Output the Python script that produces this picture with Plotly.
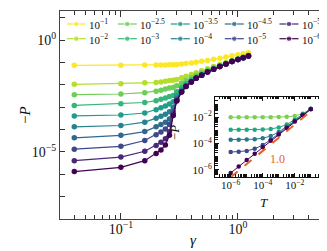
import plotly.graph_objects as go

# ---------------- data: main panel (-P vs gamma, one series per T) ----------------
gamma = [0.04, 0.1, 0.16, 0.2, 0.22, 0.24, 0.26, 0.28, 0.30, 0.33, 0.36, 0.40,
         0.44, 0.49, 0.55, 0.62, 0.70, 0.79, 0.89, 1.0, 1.11, 1.23]

series_labels = ["10<sup>−1</sup>", "10<sup>−2</sup>", "10<sup>−2.5</sup>", "10<sup>−3</sup>",
                 "10<sup>−3.5</sup>", "10<sup>−4</sup>", "10<sup>−4.5</sup>", "10<sup>−5</sup>",
                 "10<sup>−5.5</sup>", "10<sup>−6</sup>"]

# log10(-P)
logP_T1e1 = [-1.13, -1.13, -1.12, -1.11, -1.11, -1.11, -1.10, -1.10, -1.09, -1.07, -1.05, -1.02,
             -0.99, -0.95, -0.91, -0.86, -0.81, -0.76, -0.70, -0.66, -0.61, -0.57]
logP_T1e2 = [-1.98, -1.95, -1.91, -1.90, -1.87, -1.84, -1.81, -1.80, -1.76, -1.69, -1.62, -1.54,
             -1.46, -1.37, -1.28, -1.18, -1.09, -1.00, -0.90, -0.82, -0.75, -0.68]
logP_T1e25 = [-2.44, -2.41, -2.35, -2.29, -2.24, -2.19, -2.14, -2.12, -2.04, -1.92, -1.81, -1.68,
              -1.57, -1.47, -1.35, -1.24, -1.14, -1.04, -0.93, -0.85, -0.77, -0.69]
logP_T1e3 = [-2.92, -2.85, -2.79, -2.71, -2.65, -2.59, -2.52, -2.48, -2.31, -2.11, -1.95, -1.78,
             -1.65, -1.53, -1.40, -1.28, -1.16, -1.06, -0.95, -0.86, -0.78, -0.70]
logP_T1e35 = [-3.39, -3.35, -3.26, -3.11, -3.03, -2.95, -2.86, -2.76, -2.49, -2.21, -2.02, -1.83,
              -1.68, -1.55, -1.41, -1.29, -1.17, -1.06, -0.95, -0.87, -0.79, -0.71]
logP_T1e4 = [-3.88, -3.82, -3.67, -3.50, -3.41, -3.32, -3.21, -3.01, -2.60, -2.27, -2.05, -1.85,
             -1.70, -1.56, -1.42, -1.30, -1.18, -1.07, -0.96, -0.87, -0.79, -0.71]
logP_T1e45 = [-4.37, -4.26, -4.09, -3.88, -3.78, -3.67, -3.53, -3.18, -2.66, -2.30, -2.07, -1.86,
              -1.70, -1.57, -1.43, -1.30, -1.18, -1.07, -0.96, -0.87, -0.79, -0.71]
logP_T1e5 = [-4.88, -4.75, -4.49, -4.23, -4.11, -3.98, -3.78, -3.27, -2.69, -2.31, -2.07, -1.87,
             -1.71, -1.57, -1.43, -1.30, -1.18, -1.07, -0.96, -0.87, -0.79, -0.71]
logP_T1e55 = [-5.39, -5.23, -4.97, -4.71, -4.57, -4.41, -4.10, -3.35, -2.71, -2.32, -2.08, -1.87,
              -1.71, -1.57, -1.43, -1.30, -1.18, -1.07, -0.96, -0.87, -0.79, -0.71]
logP_T1e6 = [-5.88, -5.69, -5.39, -5.07, -4.91, -4.69, -4.26, -3.37, -2.72, -2.32, -2.08, -1.87,
             -1.71, -1.57, -1.43, -1.30, -1.18, -1.07, -0.96, -0.87, -0.79, -0.71]

series_colors = ["#fde725", "#b5de2b", "#6ece58", "#35b779", "#1f9e89",
                 "#26828e", "#31688e", "#3e4989", "#482878", "#440154"]

# ---------------- data: inset (-P vs T) ----------------
T_inset = [1e-6, 3.16e-6, 1e-5, 3.16e-5, 1e-4, 3.16e-4, 1e-3, 3.16e-3, 1e-2, 3.16e-2, 1e-1]
inset_logP_a = [-2.0, -2.0, -2.0, -2.0, -2.0, -2.0, -1.99, -1.97, -1.90, -1.72, -1.35]
inset_logP_b = [-2.95, -2.95, -2.95, -2.95, -2.93, -2.89, -2.78, -2.56, -2.20, -1.78, -1.36]
inset_logP_c = [-3.71, -3.71, -3.70, -3.68, -3.60, -3.44, -3.13, -2.73, -2.27, -1.80, -1.37]
inset_logP_d = [-4.66, -4.63, -4.57, -4.41, -4.12, -3.72, -3.26, -2.78, -2.29, -1.81, -1.38]
inset_logP_e = [-6.25, -5.76, -5.27, -4.78, -4.29, -3.80, -3.31, -2.82, -2.33, -1.85, -1.40]
inset_colors = ["#7ad151", "#22a884", "#2a788e", "#3e4989", "#440154"]
slope_T = [1e-6, 1e-1]
slope_logP = [-6.58, -1.55]
slope_label = "1.0"
slope_color = "#e8602c"

FONT = "Liberation Serif"
TXT = "#111"

fig = go.Figure()

main_series = [logP_T1e1, logP_T1e2, logP_T1e25, logP_T1e3, logP_T1e35,
               logP_T1e4, logP_T1e45, logP_T1e5, logP_T1e55, logP_T1e6]
for lab, vals, col in zip(series_labels, main_series, series_colors):
    fig.add_trace(go.Scatter(
        x=gamma, y=[10 ** v for v in vals], mode="lines+markers", name=lab,
        line=dict(color=col, width=1.2), marker=dict(color=col, size=5.5),
        showlegend=False, xaxis="x", yaxis="y"))

# legend drawn on a hidden overlay axis (pixel units of the plot area)
leg_col_px = [16.3, 67.3, 120.3, 174.3, 229.0]
leg_row_px = [13.0, 27.7]
for i, (lab, col) in enumerate(zip(series_labels, series_colors)):
    cx = leg_col_px[i // 2]
    cy = leg_row_px[i % 2]
    fig.add_trace(go.Scatter(
        x=[cx - 9.5, cx, cx + 9.5], y=[cy, cy, cy], mode="lines+markers",
        line=dict(color=col, width=1.2), marker=dict(color=col, size=[0, 5.5, 0]),
        showlegend=False, xaxis="x3", yaxis="y3", hoverinfo="skip"))
    fig.add_annotation(x=cx + 10.5, y=cy, xref="x3", yref="y3", text=lab, showarrow=False,
                       xanchor="left", yanchor="middle", font=dict(family=FONT, size=11, color=TXT))

# inset traces
for vals, col in zip([inset_logP_a, inset_logP_b, inset_logP_c, inset_logP_d, inset_logP_e], inset_colors):
    fig.add_trace(go.Scatter(
        x=T_inset, y=[10 ** v for v in vals], mode="lines+markers",
        line=dict(color=col, width=1), marker=dict(color=col, size=4.5),
        showlegend=False, xaxis="x2", yaxis="y2"))
fig.add_trace(go.Scatter(
    x=slope_T, y=[10 ** v for v in slope_logP], mode="lines",
    line=dict(color=slope_color, width=2, dash="dash"),
    showlegend=False, xaxis="x2", yaxis="y2"))
fig.add_annotation(x=-3.05, y=-5.15, xref="x2", yref="y2", text=slope_label, showarrow=False,
                   font=dict(family=FONT, size=12, color=slope_color))

# axis titles (placed as annotations for exact positioning)
fig.add_annotation(x=0.494, y=-0.149, xref="paper", yref="paper", text="<i>γ</i>", showarrow=False,
                   font=dict(family=FONT, size=15, color=TXT))
fig.add_annotation(x=-0.166, y=0.5, xref="paper", yref="paper", text="−<i>P</i>", showarrow=False,
                   textangle=-90, font=dict(family=FONT, size=15, color=TXT))
fig.add_annotation(x=0.776, y=0.078, xref="paper", yref="paper", text="<i>T</i>", showarrow=False,
                   yanchor="middle", font=dict(family=FONT, size=13, color=TXT))
fig.add_annotation(x=0.421, y=0.413, xref="paper", yref="paper", text="−<i>P</i>", showarrow=False,
                   textangle=-90, font=dict(family=FONT, size=13, color=TXT))


def decade_minor(lo, hi, skip=()):
    out = []
    for e in range(lo, hi + 1):
        for m in range(1, 10):
            if m == 1 and e in skip:
                continue
            out.append(m * 10.0 ** e)
    return out


axis_common = dict(showgrid=False, zeroline=False, showline=True, mirror="allticks", ticks="inside")

fig.update_layout(
    xaxis=dict(type="log", range=[-1.52, 0.795], domain=[0, 1], anchor="y",
               tickvals=[0.1, 1.0], ticktext=["10<sup>−1</sup>", "10<sup>0</sup>"],
               ticklen=6, tickcolor="#333", linecolor="#444", linewidth=1.2,
               tickfont=dict(family=FONT, size=14, color=TXT), ticklabelstandoff=-3,
               minor=dict(tickvals=decade_minor(-2, 0, skip=(-1, 0)), ticks="inside", ticklen=3.5,
                          tickcolor="#333"),
               **axis_common),
    yaxis=dict(type="log", range=[-8.0, 1.3], domain=[0, 1], anchor="x",
               tickvals=[1e0, 1e-5], ticktext=["10<sup>0</sup>", "10<sup>−5</sup>"],
               ticklen=5, tickcolor="#333", linecolor="#444", linewidth=1.2,
               tickfont=dict(family=FONT, size=14, color=TXT),
               minor=dict(tickvals=[10.0 ** e for e in range(-8, 2) if e not in (0, -5)],
                          ticks="inside", ticklen=5, tickcolor="#333"),
               **axis_common),
    xaxis2=dict(type="log", range=[-6.98, -0.04], domain=[0.572, 0.982], anchor="y2",
                tickvals=[1e-6, 1e-4, 1e-2],
                ticktext=["10<sup>−6</sup>", "10<sup>−4</sup>", "10<sup>−2</sup>"],
                ticklen=4, tickcolor="#111", linecolor="#111", linewidth=1,
                tickfont=dict(family=FONT, size=11, color=TXT), ticklabelstandoff=-2,
                minor=dict(tickvals=decade_minor(-7, -1, skip=(-6, -4, -2)), ticks="inside",
                           ticklen=2.5, tickcolor="#111"),
                **axis_common),
    yaxis2=dict(type="log", range=[-6.56, -0.45], domain=[0.202, 0.587], anchor="x2",
                tickvals=[1e-6, 1e-4, 1e-2],
                ticktext=["10<sup>−6</sup>", "10<sup>−4</sup>", "10<sup>−2</sup>"],
                ticklen=4, tickcolor="#111", linecolor="#111", linewidth=1,
                tickfont=dict(family=FONT, size=11, color=TXT),
                minor=dict(tickvals=decade_minor(-7, -1, skip=(-6, -4, -2)), ticks="inside",
                           ticklen=2.5, tickcolor="#111"),
                **axis_common),
    xaxis3=dict(visible=False, range=[0, 271], domain=[0, 1], anchor="y3", overlaying="x"),
    yaxis3=dict(visible=False, range=[208, 0], domain=[0, 1], anchor="x3", overlaying="y"),
    width=327, height=251,
    margin=dict(l=52, r=4, t=3, b=40),
    paper_bgcolor="white", plot_bgcolor="white",
    showlegend=False,
    font=dict(family=FONT, color=TXT),
)

fig.write_html("out.html")
